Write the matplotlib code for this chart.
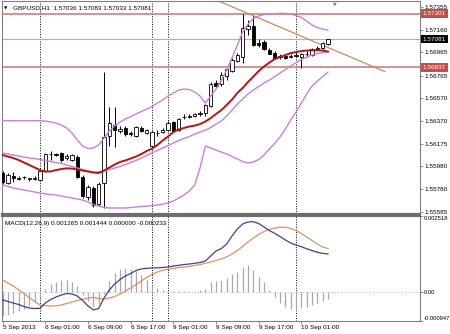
import matplotlib
matplotlib.use('Agg')
import matplotlib.pyplot as plt
from matplotlib.transforms import blended_transform_factory

plt.rcParams['font.family'] = ['Liberation Sans', 'DejaVu Sans']
FS = 4.6

# ---------------- data (GBPUSD H1) ----------------
# bar index 0 = 6 Sep 00:00
bars = list(range(-7, 55))

opens = [1.55922, 1.55835, 1.55900, 1.55878, 1.55883, 1.55874, 1.55874, 1.55865,
         1.55939, 1.56082, 1.56090, 1.56095, 1.56051, 1.56034, 1.56064, 1.55887, 1.55714, 1.55792,
         1.55653, 1.55835, 1.56242, 1.56337, 1.56285, 1.56311, 1.56268, 1.56242, 1.56315, 1.56272,
         1.56155, 1.56268, 1.56276, 1.56293, 1.56363, 1.56293, 1.56406, 1.56410, 1.56415, 1.56428,
         1.56441, 1.56505, 1.56700, 1.56691, 1.56761, 1.56804, 1.56890, 1.56925, 1.57171, 1.57193,
         1.57050, 1.57055, 1.56990, 1.56964, 1.56934, 1.56934, 1.56925, 1.56938, 1.56929, 1.56951,
         1.56947, 1.56998, 1.57003, 1.57036]
highs = [1.55939, 1.55922, 1.55930, 1.55896, 1.55896, 1.55878, 1.55896, 1.55943,
         1.56095, 1.56108, 1.56099, 1.56103, 1.56086, 1.56086, 1.56077, 1.55904, 1.55818, 1.55809,
         1.55844, 1.56795, 1.56492, 1.56492, 1.56328, 1.56328, 1.56285, 1.56332, 1.56328, 1.56302,
         1.56285, 1.56293, 1.56311, 1.56371, 1.56376, 1.56397, 1.56432, 1.56436, 1.56441, 1.56458,
         1.56518, 1.56709, 1.56726, 1.56795, 1.56838, 1.56916, 1.56959, 1.57301, 1.57245, 1.57284,
         1.57081, 1.57072, 1.57003, 1.56977, 1.56951, 1.56942, 1.56951, 1.56968, 1.56964, 1.56977,
         1.57003, 1.57020, 1.57055, 1.57083]
lows = [1.55826, 1.55826, 1.55844, 1.55861, 1.55870, 1.55852, 1.55861, 1.55857,
        1.55930, 1.56034, 1.56069, 1.56021, 1.56034, 1.56025, 1.55878, 1.55705, 1.55688, 1.55627,
        1.55636, 1.55619, 1.56155, 1.56146, 1.56268, 1.56242, 1.56242, 1.56233, 1.56276, 1.56259,
        1.56129, 1.56242, 1.56268, 1.56285, 1.56276, 1.56285, 1.56389, 1.56397, 1.56406, 1.56419,
        1.56415, 1.56492, 1.56657, 1.56674, 1.56726, 1.56795, 1.56882, 1.56873, 1.57115, 1.57020,
        1.57011, 1.56985, 1.56951, 1.56912, 1.56908, 1.56908, 1.56916, 1.56925, 1.56834, 1.56925,
        1.56938, 1.56985, 1.56994, 1.57033]
closes = [1.55844, 1.55904, 1.55878, 1.55874, 1.55887, 1.55876, 1.55878, 1.55935,
          1.56086, 1.56086, 1.56077, 1.56030, 1.56069, 1.56077, 1.55887, 1.55723, 1.55800, 1.55645,
          1.55826, 1.56233, 1.56354, 1.56293, 1.56306, 1.56255, 1.56263, 1.56319, 1.56285, 1.56293,
          1.56276, 1.56272, 1.56298, 1.56358, 1.56285, 1.56389, 1.56410, 1.56415, 1.56428, 1.56445,
          1.56510, 1.56696, 1.56678, 1.56769, 1.56821, 1.56899, 1.56942, 1.57176, 1.57193, 1.57029,
          1.57029, 1.56994, 1.56955, 1.56921, 1.56929, 1.56921, 1.56938, 1.56942, 1.56955, 1.56955,
          1.56994, 1.57003, 1.57046, 1.57081]

bb_upper = [1.56376, 1.56375, 1.56374, 1.56374, 1.56374, 1.56374, 1.56374, 1.56374,
            1.56371, 1.56363, 1.56354, 1.56337, 1.56311, 1.56268, 1.56207, 1.56155, 1.56133, 1.56138,
            1.56164, 1.56224, 1.56285, 1.56328, 1.56363, 1.56389, 1.56410, 1.56432, 1.56454, 1.56475,
            1.56497, 1.56527, 1.56553, 1.56588, 1.56614, 1.56639, 1.56648, 1.56644, 1.56622, 1.56588,
            1.56527, 1.56588, 1.56648, 1.56726, 1.56812, 1.56916, 1.57029, 1.57141, 1.57210, 1.57258,
            1.57280, 1.57293, 1.57297, 1.57301, 1.57303, 1.57303, 1.57297, 1.57284, 1.57267, 1.57236,
            1.57202, 1.57180, 1.57167, 1.57158]
bb_middle = [1.56095, 1.56086, 1.56077, 1.56069, 1.56060, 1.56051, 1.56047, 1.56038,
             1.56030, 1.56021, 1.56012, 1.56004, 1.55991, 1.55978, 1.55965, 1.55952, 1.55939, 1.55930,
             1.55930, 1.55939, 1.55952, 1.55965, 1.55978, 1.55995, 1.56012, 1.56030, 1.56051, 1.56073,
             1.56095, 1.56116, 1.56138, 1.56159, 1.56181, 1.56203, 1.56220, 1.56237, 1.56259, 1.56276,
             1.56293, 1.56315, 1.56345, 1.56371, 1.56415, 1.56466, 1.56518, 1.56562, 1.56605, 1.56639,
             1.56670, 1.56700, 1.56726, 1.56756, 1.56787, 1.56817, 1.56847, 1.56877, 1.56903, 1.56925,
             1.56942, 1.56955, 1.56964, 1.56972]
bb_lower = [1.55818, 1.55805, 1.55792, 1.55783, 1.55775, 1.55766, 1.55757, 1.55749,
            1.55740, 1.55736, 1.55731, 1.55723, 1.55714, 1.55705, 1.55697, 1.55688, 1.55671, 1.55649,
            1.55636, 1.55623, 1.55619, 1.55619, 1.55619, 1.55619, 1.55623, 1.55627, 1.55632, 1.55636,
            1.55640, 1.55645, 1.55653, 1.55662, 1.55679, 1.55705, 1.55731, 1.55766, 1.55818, 1.55965,
            1.56155, 1.56138, 1.56120, 1.56103, 1.56086, 1.56064, 1.56043, 1.56021, 1.56008, 1.56017,
            1.56038, 1.56077, 1.56129, 1.56177, 1.56233, 1.56302, 1.56380, 1.56449, 1.56527, 1.56605,
            1.56674, 1.56717, 1.56756, 1.56795]
ma_red = [1.56077, 1.56064, 1.56051, 1.56034, 1.56012, 1.55991, 1.55969, 1.55947,
          1.55935, 1.55935, 1.55947, 1.55956, 1.55962, 1.55960, 1.55952, 1.55943, 1.55935, 1.55926,
          1.55922, 1.55943, 1.55969, 1.55995, 1.56017, 1.56030, 1.56047, 1.56064, 1.56086, 1.56112,
          1.56133, 1.56164, 1.56203, 1.56237, 1.56276, 1.56298, 1.56311, 1.56324, 1.56332, 1.56345,
          1.56367, 1.56397, 1.56432, 1.56466, 1.56510, 1.56557, 1.56614, 1.56657, 1.56709, 1.56756,
          1.56804, 1.56843, 1.56877, 1.56908, 1.56925, 1.56942, 1.56959, 1.56968, 1.56977, 1.56981,
          1.56985, 1.56985, 1.56981, 1.56972]

macd_main = [-0.000254, -0.000304, -0.000353, -0.000403, -0.000469, -0.000518, -0.000535, -0.000528,
             -0.000353, -0.000238, -0.000155, -0.000089, -0.000040, -0.000056, -0.000122, -0.000271,
             -0.000452, -0.000584, -0.000535, -0.000188, 0.000076, 0.000274, 0.000422, 0.000538,
             0.000620, 0.000719, 0.000769, 0.000792, 0.000802, 0.000809, 0.000818, 0.000835,
             0.000868, 0.000891, 0.000917, 0.000934, 0.000957, 0.000983, 0.001033, 0.001198,
             0.001363, 0.001445, 0.001594, 0.001858, 0.002089, 0.002254, 0.002320, 0.002330,
             0.002270, 0.002155, 0.002039, 0.001947, 0.001841, 0.001726, 0.001627, 0.001561,
             0.001505, 0.001439, 0.001379, 0.001320, 0.001285, 0.001265]
macd_signal = [0.000406, 0.000307, 0.000208, 0.000076, -0.000040, -0.000172, -0.000304, -0.000419,
               -0.000442, -0.000452, -0.000446, -0.000419, -0.000370, -0.000320, -0.000271, -0.000231,
               -0.000188, -0.000172, -0.000205, -0.000221, -0.000188, -0.000139, -0.000056, 0.000043,
               0.000142, 0.000257, 0.000373, 0.000488, 0.000587, 0.000670, 0.000726, 0.000759,
               0.000792, 0.000818, 0.000835, 0.000858, 0.000884, 0.000917, 0.000957, 0.001000,
               0.001049, 0.001099, 0.001165, 0.001264, 0.001379, 0.001511, 0.001660, 0.001792,
               0.001907, 0.002006, 0.002079, 0.002122, 0.002145, 0.002145, 0.002105, 0.002039,
               0.001940, 0.001825, 0.001709, 0.001594, 0.001495, 0.001444]
macd_hist = [-0.000792, -0.000743, -0.000693, -0.000627, -0.000545, -0.000446, -0.000314, -0.000165,
             0.000099, 0.000264, 0.000347, 0.000396, 0.000396, 0.000347, 0.000198, -0.000083,
             -0.000297, -0.000479, -0.000396, -0.000066, 0.000363, 0.000627, 0.000776, 0.000809,
             0.000759, 0.000693, 0.000578, 0.000413, 0.000231, 0.000132, 0.000066, 0.000033,
             0.000033, 0.000033, 0.000033, 0.000033, 0.000033, 0.000066, 0.000116, 0.000347,
             0.000380, 0.000413, 0.000462, 0.000594, 0.000660, 0.000842, 0.000891, 0.000726,
             0.000512, 0.000347, 0.000066, -0.000165, -0.000363, -0.000495, -0.000561, -0.000578,
             -0.000528, -0.000479, -0.000413, -0.000347, -0.000281, -0.000233]

separators = [0, 21, 24, 48]
time_ticks = [-7, 1, 9, 17, 25, 33, 41, 49]
time_labels = ['5 Sep 2013', '6 Sep 01:00', '6 Sep 09:00', '6 Sep 17:00',
               '9 Sep 01:00', '9 Sep 09:00', '9 Sep 17:00', '10 Sep 01:00']
price_ticks = [1.57355, 1.57160, 1.56965, 1.56765, 1.56570, 1.56370,
               1.56175, 1.55980, 1.55780, 1.55585]
level_high = 1.57301
level_low = 1.56837
trend_x = [32.0, 64.7]
trend_y = [1.57439, 1.56798]
macd_ticks = [0.002518, 0.0, -0.000947]
macd_tick_labels = ['0.002518', '0.00', '-0.000947']

# ---------------- layout ----------------
W, H = 450, 334
fig = plt.figure(figsize=(W / 100, H / 100), dpi=100)


def px_box(x0, y0, x1, y1):
    return [x0 / W, 1 - y1 / H, (x1 - x0) / W, (y1 - y0) / H]


ax = fig.add_axes(px_box(1.5, 1, 420, 214))
mac = fig.add_axes(px_box(1.5, 216, 420, 321))
xlim = (-7.22, 71.25)

grey = '#808080'
band_col = '#c880d8'

# ---------------- main chart ----------------
ax.vlines(bars, lows, highs, color='black', lw=0.7, zorder=3)
body_bottom = [min(o, c) for o, c in zip(opens, closes)]
body_height = [abs(c - o) for o, c in zip(opens, closes)]
body_face = ['white' if c >= o else 'black' for o, c in zip(opens, closes)]
ax.bar(bars, body_height, 0.6, bottom=body_bottom, color=body_face,
       edgecolor='black', linewidth=0.6, zorder=4)

ax.plot(bars, bb_upper, color=band_col, lw=1.0, zorder=5)
ax.plot(bars, bb_middle, color=band_col, lw=1.0, zorder=5)
ax.plot(bars, bb_lower, color=band_col, lw=1.0, zorder=5)
ax.plot(bars, ma_red, color='#b31515', lw=1.4, zorder=6)

ax.axhline(level_high, color='#c27878', lw=1.1, zorder=2)
ax.axhline(level_low, color='#c27878', lw=1.1, zorder=2)
ax.axhline(closes[-1], color='#b0b0b0', lw=0.8, zorder=2)
ax.plot(trend_x, trend_y, color='#c8886a', lw=0.9, zorder=2)

for s in separators:
    ax.axvline(s, color='black', lw=0.7, ls=(0, (1, 1.6)), zorder=1)
    mac.axvline(s, color='black', lw=0.7, ls=(0, (1, 1.6)), zorder=1)

ax.set_xlim(xlim)
ax.set_ylim(1.55567, 1.57410)
ax.yaxis.tick_right()
ax.set_yticks(price_ticks)
ax.set_yticklabels([f'{p:.5f}' for p in price_ticks])
ax.tick_params(axis='y', length=2, width=0.6, color=grey, labelsize=FS, pad=1.5)
ax.tick_params(axis='x', bottom=False, labelbottom=False)

lab_tr = blended_transform_factory(ax.transAxes, ax.transData)
for price, fc in [(level_high, '#c84c4c'), (closes[-1], 'black'), (level_low, '#c84c4c')]:
    ax.text(1.007, price, f'{price:.5f}', transform=lab_tr, color='white', fontsize=FS,
            va='center', ha='left', bbox=dict(boxstyle='square,pad=0.3', fc=fc, ec='none'))

fig.text(6 / W, 1 - 8 / H, '\u25bc', fontsize=3.2, va='center', ha='center',
         family='DejaVu Sans')
fig.text(13 / W, 1 - 8 / H, 'GBPUSD,H1  1.57036 1.57083 1.57033 1.57081',
         fontsize=FS, va='center', ha='left')
fig.text(335 / W, 1 - 4 / H, '\u25bc', fontsize=3.5, color=grey, va='center', ha='center',
         family='DejaVu Sans')

# ---------------- MACD window ----------------
mac.vlines(bars, 0, macd_hist, color='#a8a8a8', lw=0.9, zorder=2)
mac.axhline(0, color='#b8b8b8', lw=0.7, ls=(0, (1, 2)), zorder=1)
mac.plot(bars, macd_signal, color='#d99460', lw=0.9, zorder=3)
mac.plot(bars, macd_main, color='#3f3f96', lw=0.9, zorder=4)

mac.set_xlim(xlim)
mac.set_ylim(-0.000947, 0.002518)
mac.yaxis.tick_right()
mac.set_yticks(macd_ticks)
mac.set_yticklabels(macd_tick_labels)
mac.tick_params(axis='y', length=2, width=0.6, color=grey, labelsize=4.2, pad=1)
ylabs = mac.get_yticklabels()
ylabs[0].set_va('top')
ylabs[2].set_va('bottom')
mac.set_xticks(time_ticks)
mac.set_xticklabels(time_labels, ha='left')
mac.tick_params(axis='x', length=2, width=0.6, color=grey, labelsize=FS, pad=1)

fig.text(5 / W, 1 - 223 / H, 'MACD(12,26,9) 0.001265 0.001444 0.000000 -0.000233',
         fontsize=FS, va='center', ha='left')

for a in (ax, mac):
    for sp in a.spines.values():
        sp.set_color(grey)
        sp.set_linewidth(0.8)
ax.spines['bottom'].set_linewidth(1.6)
ax.spines['bottom'].set_color('#6e6e6e')
mac.spines['top'].set_linewidth(1.6)
mac.spines['top'].set_color('#6e6e6e')

fig.savefig('out.png', dpi=100)
